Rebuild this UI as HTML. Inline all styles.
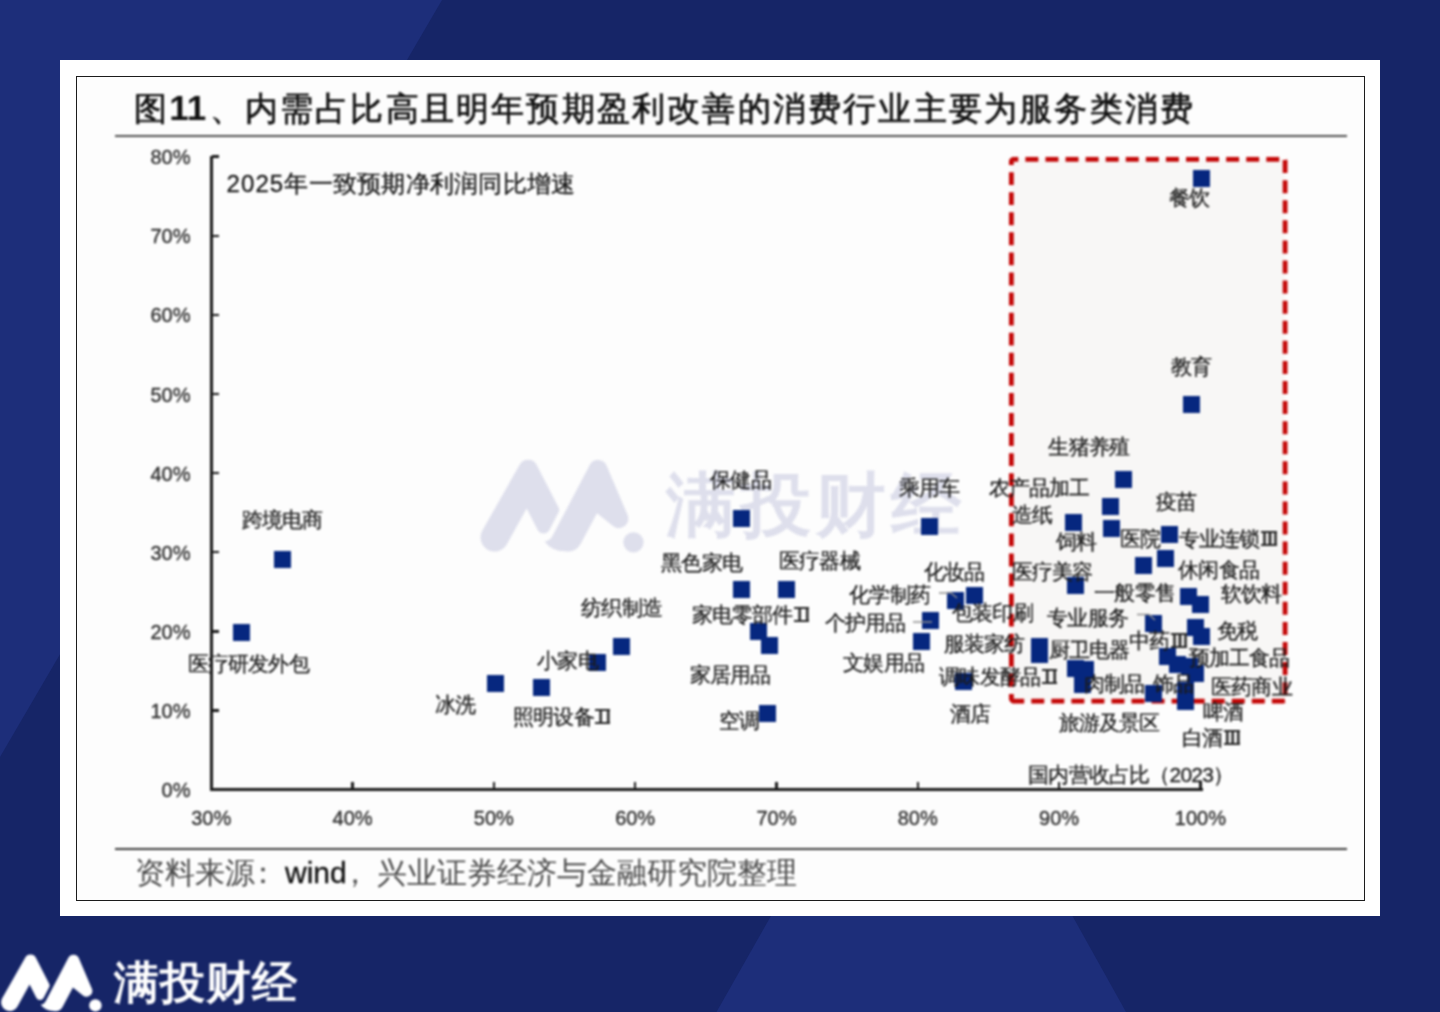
<!DOCTYPE html>
<html lang="zh"><head><meta charset="utf-8"><title>图11</title>
<style>
html,body{margin:0;padding:0;}
body{width:1440px;height:1012px;overflow:hidden;background:#162567;font-family:"Liberation Sans",sans-serif;}
#root{position:relative;width:1440px;height:1012px;}
#root>*,#ch>*{position:absolute;}
.j{text-align:justify;text-align-last:justify;}
#ch{left:0;top:0;width:1440px;height:1012px;filter:blur(0.8px);}
.bg{left:-12px;top:-12px;background:#162567;}
.card{left:60px;top:60px;width:1320px;height:856px;background:#fff;}
.frame{left:76px;top:76px;width:1288.7px;height:825px;border:1.4px solid #1c1c1c;box-sizing:border-box;background:#fdfdfd;}
.title{left:134px;top:86px;height:44px;line-height:44px;font-size:33px;letter-spacing:2.2px;font-weight:400;-webkit-text-stroke:0.7px #111;color:#111;white-space:nowrap;}
.title b{font-weight:700;font-size:35px;letter-spacing:0;margin-right:3.4px;-webkit-text-stroke:0;}
.hr1{left:114.5px;top:135.2px;width:1232px;height:2px;background:#505050;}
.hr2{left:114.5px;top:847.8px;width:1232px;height:2px;background:#3c3c3c;}
.src{left:135px;top:853px;height:40px;line-height:40px;font-size:30px;color:#4a4a4a;white-space:nowrap;}
.src b{font-weight:400;color:#0c0c0c;-webkit-text-stroke:0.3px #0c0c0c;}
.pc{position:relative;left:-7px;}
.yl{width:60px;text-align:right;left:130.5px;height:24px;line-height:24px;font-size:20px;color:#2e2e2e;-webkit-text-stroke:0.35px #2e2e2e;}
.xl{width:80px;text-align:center;height:24px;line-height:24px;font-size:20px;color:#2e2e2e;-webkit-text-stroke:0.35px #2e2e2e;}
.sub{left:226.5px;top:170px;height:28px;line-height:28px;font-size:24px;color:#161616;-webkit-text-stroke:0.3px #161616;white-space:nowrap;letter-spacing:0.25px;}
.lb{height:24px;line-height:24px;font-size:21px;letter-spacing:-0.8px;color:#1c1c1c;-webkit-text-stroke:0.3px #1c1c1c;white-space:nowrap;}
.rn{display:inline-block;overflow:hidden;box-sizing:content-box;width:15px;height:11px;line-height:11px;border-top:2.4px solid #2a2a2a;border-bottom:2.4px solid #2a2a2a;font-size:16px;font-weight:700;text-align:center;text-align-last:center;letter-spacing:3.2px;text-indent:3.2px;margin-left:1.5px;color:#2a2a2a;}
.rn3{letter-spacing:1.1px;text-indent:1.1px;width:16px;}
.sub i{font-style:normal;letter-spacing:1.1px;}
.mk{width:17px;height:17px;background:#06277f;}
.ax{background:#1a1a1a;}
.wmt{left:665.5px;top:460px;height:90px;line-height:90px;font-size:70px;letter-spacing:5px;font-weight:700;color:#dedfec;white-space:nowrap;}
.logot{left:113.5px;top:954.5px;height:56px;line-height:56px;font-size:45px;letter-spacing:1px;font-weight:700;color:#fff;white-space:nowrap;}
</style></head><body><div id="root">
<svg class="bg" width="1464" height="1036" viewBox="-12 -12 1464 1036"><polygon points="-12,-12 449,-12 -12,777.5" fill="#1d2e7a"/><polygon points="923,648 709.7,1024 1132.7,1024" fill="#1d2e7a"/></svg>
<div class="card"></div>
<div class="frame"></div>
<div id="ch">
<div class="title j" style="width:1061.20px">图<b>11</b>、内需占比高且明年预期盈利改善的消费行业主要为服务类消费</div>
<div class="hr1"></div>
<svg style="left:0;top:0" width="1440" height="1012" viewBox="0 0 1440 1012"><g transform="translate(478.65,436.2) scale(0.1352)" fill="#dedfec"><path d="M302,213.4 A72.5,72.5 0 0 1 430.5,214.3 L591,527 Q600,545 591,563 L524.5,691.9 A50,50 0 0 1 435.6,691.9 L355,535 L209.8,797.9 A104,104 0 0 1 26.2,700.1 Z"/><path d="M820.4,214.2 A70,70 0 0 1 946.8,219.3 L1101.6,582.7 A70,70 0 0 1 991.4,663.1 L875,570 L754,797 A105,105 0 0 1 640,851 Q540,850 488,778 Q530,772 548,735 Z"/><circle cx="1145" cy="785" r="75"/></g></svg>
<div class="wmt j" style="width:300.00px">满投财经</div>
<svg style="left:0;top:0" width="1440" height="1012" viewBox="0 0 1440 1012"><rect x="1011.3" y="159.3" width="273.9" height="541.9" rx="4" fill="#f8f7f6"/><clipPath id="rc"><rect x="1008.8" y="156.8" width="278.9" height="546.9" rx="5.5"/></clipPath><g fill="none" stroke="#c40808" stroke-width="5" clip-path="url(#rc)"><path d="M1008.8,159.3 H1287.7" stroke-dasharray="13 7.075" stroke-dashoffset="3.5"/><path d="M1011.3,156.8 V703.7" stroke-dasharray="12.9 7.17" stroke-dashoffset="4.72"/><path d="M1285.2,160.1 V703.7" stroke-dasharray="13 7.08"/><path d="M1008.8,701.25 H1287.7" stroke-dasharray="13 7.05" stroke-dashoffset="-2.4"/></g></svg>
<div class="ax" style="left:210px;top:156px;width:3px;height:635px"></div>
<div class="ax" style="left:210px;top:788px;width:992.5px;height:3px"></div>
<div class="yl" style="top:778.00px">0%</div>
<div class="ax" style="left:212px;top:709.15px;width:7px;height:2.5px"></div>
<div class="yl" style="top:698.90px">10%</div>
<div class="ax" style="left:212px;top:630.05px;width:7px;height:2.5px"></div>
<div class="yl" style="top:619.80px">20%</div>
<div class="ax" style="left:212px;top:550.95px;width:7px;height:2.5px"></div>
<div class="yl" style="top:540.70px">30%</div>
<div class="ax" style="left:212px;top:471.85px;width:7px;height:2.5px"></div>
<div class="yl" style="top:461.60px">40%</div>
<div class="ax" style="left:212px;top:392.75px;width:7px;height:2.5px"></div>
<div class="yl" style="top:382.50px">50%</div>
<div class="ax" style="left:212px;top:313.65px;width:7px;height:2.5px"></div>
<div class="yl" style="top:303.40px">60%</div>
<div class="ax" style="left:212px;top:234.55px;width:7px;height:2.5px"></div>
<div class="yl" style="top:224.30px">70%</div>
<div class="ax" style="left:212px;top:155.45px;width:7px;height:2.5px"></div>
<div class="yl" style="top:145.20px">80%</div>
<div class="xl" style="left:171.25px;top:806px">30%</div>
<div class="ax" style="left:351.30px;top:782px;width:2.5px;height:7px"></div>
<div class="xl" style="left:312.55px;top:806px">40%</div>
<div class="ax" style="left:492.60px;top:782px;width:2.5px;height:7px"></div>
<div class="xl" style="left:453.85px;top:806px">50%</div>
<div class="ax" style="left:633.90px;top:782px;width:2.5px;height:7px"></div>
<div class="xl" style="left:595.15px;top:806px">60%</div>
<div class="ax" style="left:775.20px;top:782px;width:2.5px;height:7px"></div>
<div class="xl" style="left:736.45px;top:806px">70%</div>
<div class="ax" style="left:916.50px;top:782px;width:2.5px;height:7px"></div>
<div class="xl" style="left:877.75px;top:806px">80%</div>
<div class="ax" style="left:1057.80px;top:782px;width:2.5px;height:7px"></div>
<div class="xl" style="left:1019.05px;top:806px">90%</div>
<div class="ax" style="left:1199.10px;top:782px;width:2.5px;height:7px"></div>
<div class="xl" style="left:1160.35px;top:806px">100%</div>
<div class="sub j" style="width:348.80px"><i>2025</i>年一致预期净利润同比增速</div>
<div class="mk" style="left:274.00px;top:550.75px"></div>
<div class="mk" style="left:232.75px;top:624.00px"></div>
<div class="mk" style="left:487.25px;top:674.75px"></div>
<div class="mk" style="left:532.75px;top:679.00px"></div>
<div class="mk" style="left:588.50px;top:654.00px"></div>
<div class="mk" style="left:612.50px;top:638.25px"></div>
<div class="mk" style="left:732.50px;top:510.25px"></div>
<div class="mk" style="left:732.50px;top:581.00px"></div>
<div class="mk" style="left:777.50px;top:581.20px"></div>
<div class="mk" style="left:749.50px;top:622.50px"></div>
<div class="mk" style="left:761.00px;top:636.50px"></div>
<div class="mk" style="left:758.50px;top:704.75px"></div>
<div class="mk" style="left:920.80px;top:517.50px"></div>
<div class="mk" style="left:966.20px;top:586.80px"></div>
<div class="mk" style="left:947.00px;top:591.50px"></div>
<div class="mk" style="left:921.80px;top:611.80px"></div>
<div class="mk" style="left:912.50px;top:632.70px"></div>
<div class="mk" style="left:954.50px;top:673.40px"></div>
<div class="mk" style="left:1192.50px;top:170.30px"></div>
<div class="mk" style="left:1182.90px;top:396.10px"></div>
<div class="mk" style="left:1115.10px;top:470.50px"></div>
<div class="mk" style="left:1102.10px;top:497.80px"></div>
<div class="mk" style="left:1102.80px;top:519.80px"></div>
<div class="mk" style="left:1064.90px;top:514.20px"></div>
<div class="mk" style="left:1160.70px;top:525.50px"></div>
<div class="mk" style="left:1156.50px;top:550.30px"></div>
<div class="mk" style="left:1134.90px;top:557.40px"></div>
<div class="mk" style="left:1067.00px;top:577.20px"></div>
<div class="mk" style="left:1179.70px;top:588.00px"></div>
<div class="mk" style="left:1191.50px;top:595.50px"></div>
<div class="mk" style="left:1144.80px;top:614.50px"></div>
<div class="mk" style="left:1187.20px;top:618.50px"></div>
<div class="mk" style="left:1192.50px;top:627.80px"></div>
<div class="mk" style="left:1031.00px;top:637.50px"></div>
<div class="mk" style="left:1031.00px;top:645.50px"></div>
<div class="mk" style="left:1159.20px;top:648.30px"></div>
<div class="mk" style="left:1168.90px;top:655.80px"></div>
<div class="mk" style="left:1180.80px;top:658.00px"></div>
<div class="mk" style="left:1187.20px;top:664.50px"></div>
<div class="mk" style="left:1066.50px;top:660.10px"></div>
<div class="mk" style="left:1077.40px;top:661.20px"></div>
<div class="mk" style="left:1074.10px;top:676.30px"></div>
<div class="mk" style="left:1144.50px;top:684.90px"></div>
<div class="mk" style="left:1176.50px;top:681.50px"></div>
<div class="mk" style="left:1176.50px;top:692.50px"></div>
<svg style="left:0;top:0" width="1440" height="1012" viewBox="0 0 1440 1012" fill="none" stroke="#8f8f8f" stroke-width="1.5"><path d="M939,593 H951 L957,598"/><path d="M913,622 H932"/><path d="M1137,614.5 H1149 L1155,620"/></svg>
<div class="lb j" style="width:80.81px;left:241.70px;top:508.00px">跨境电商</div>
<div class="lb j" style="width:121.20px;left:187.70px;top:651.75px">医疗研发外包</div>
<div class="lb j" style="width:40.41px;left:434.70px;top:693.00px">冰洗</div>
<div class="lb j" style="width:97.31px;left:512.95px;top:705.00px">照明设备<span class="rn">II</span></div>
<div class="lb j" style="width:60.61px;left:537.20px;top:649.00px">小家电</div>
<div class="lb j" style="width:80.81px;left:581.20px;top:596.00px">纺织制造</div>
<div class="lb j" style="width:60.61px;left:710.20px;top:468.00px">保健品</div>
<div class="lb j" style="width:80.81px;left:661.20px;top:550.50px">黑色家电</div>
<div class="lb j" style="width:117.52px;left:691.70px;top:603.00px">家电零部件<span class="rn">II</span></div>
<div class="lb j" style="width:80.81px;left:689.70px;top:662.50px">家居用品</div>
<div class="lb j" style="width:40.41px;left:719.20px;top:708.50px">空调</div>
<div class="lb j" style="width:80.81px;left:779.00px;top:549.00px">医疗器械</div>
<div class="lb j" style="width:60.61px;left:898.90px;top:476.40px">乘用车</div>
<div class="lb j" style="width:60.61px;left:923.90px;top:560.40px">化妆品</div>
<div class="lb j" style="width:80.81px;left:849.20px;top:583.30px">化学制药</div>
<div class="lb j" style="width:80.81px;left:824.90px;top:611.40px">个护用品</div>
<div class="lb j" style="width:80.81px;left:843.20px;top:650.50px">文娱用品</div>
<div class="lb j" style="width:80.81px;left:952.00px;top:601.00px">包装印刷</div>
<div class="lb j" style="width:80.81px;left:943.70px;top:631.50px">服装家纺</div>
<div class="lb j" style="width:117.52px;left:939.20px;top:664.50px">调味发酵品<span class="rn">II</span></div>
<div class="lb j" style="width:40.41px;left:949.60px;top:701.50px">酒店</div>
<div class="lb j" style="width:101.02px;left:988.50px;top:476.30px">农产品加工</div>
<div class="lb j" style="width:40.41px;left:1012.00px;top:502.50px">造纸</div>
<div class="lb j" style="width:40.41px;left:1056.00px;top:529.50px">饲料</div>
<div class="lb j" style="width:80.81px;left:1048.40px;top:434.60px">生猪养殖</div>
<div class="lb j" style="width:40.41px;left:1156.20px;top:490.00px">疫苗</div>
<div class="lb j" style="width:40.41px;left:1120.20px;top:527.40px">医院</div>
<div class="lb j" style="width:98.31px;left:1178.80px;top:527.40px">专业连锁<span class="rn rn3">III</span></div>
<div class="lb j" style="width:80.81px;left:1011.80px;top:559.70px">医疗美容</div>
<div class="lb j" style="width:80.81px;left:1178.20px;top:557.50px">休闲食品</div>
<div class="lb j" style="width:80.81px;left:1094.20px;top:580.80px">一般零售</div>
<div class="lb j" style="width:60.61px;left:1220.80px;top:581.90px">软饮料</div>
<div class="lb j" style="width:80.81px;left:1047.20px;top:605.60px">专业服务</div>
<div class="lb j" style="width:40.41px;left:1217.20px;top:619.00px">免税</div>
<div class="lb j" style="width:57.91px;left:1129.20px;top:628.60px">中药<span class="rn rn3">III</span></div>
<div class="lb j" style="width:80.81px;left:1048.90px;top:638.30px">厨卫电器</div>
<div class="lb j" style="width:101.02px;left:1188.50px;top:645.90px">预加工食品</div>
<div class="lb j" style="width:60.61px;left:1084.00px;top:671.70px">肉制品</div>
<div class="lb j" style="width:40.41px;left:1152.90px;top:672.20px">饰品</div>
<div class="lb j" style="width:80.81px;left:1211.10px;top:675.00px">医药商业</div>
<div class="lb j" style="width:40.41px;left:1202.50px;top:700.00px">啤酒</div>
<div class="lb j" style="width:101.02px;left:1058.60px;top:711.00px">旅游及景区</div>
<div class="lb j" style="width:57.91px;left:1182.00px;top:725.70px">白酒<span class="rn rn3">III</span></div>
<div class="lb j" style="width:40.41px;left:1169.20px;top:185.70px">餐饮</div>
<div class="lb j" style="width:40.41px;left:1170.80px;top:355.00px">教育</div>
<div class="lb j" style="width:205.12px;left:1028.20px;top:763.00px">国内营收占比（2023）</div>
<div class="hr2"></div>
<div class="src j" style="width:661.70px">资料来源<span class="pc">：</span><b>wind</b><span class="pc">，</span>兴业证券经济与金融研究院整理</div>
<svg style="left:0;top:0" width="1440" height="1012" viewBox="0 0 1440 1012"><g transform="translate(0,940) scale(0.083333)" fill="#fff"><path d="M302,213.4 A72.5,72.5 0 0 1 430.5,214.3 L591,527 Q600,545 591,563 L524.5,691.9 A50,50 0 0 1 435.6,691.9 L355,535 L209.8,797.9 A104,104 0 0 1 26.2,700.1 Z"/><path d="M820.4,214.2 A70,70 0 0 1 946.8,219.3 L1101.6,582.7 A70,70 0 0 1 991.4,663.1 L875,570 L754,797 A105,105 0 0 1 640,851 Q540,850 488,778 Q530,772 548,735 Z"/><circle cx="1145" cy="785" r="75"/></g></svg>
<div class="logot j" style="width:184.00px">满投财经</div>
</div>
</div></body></html>
